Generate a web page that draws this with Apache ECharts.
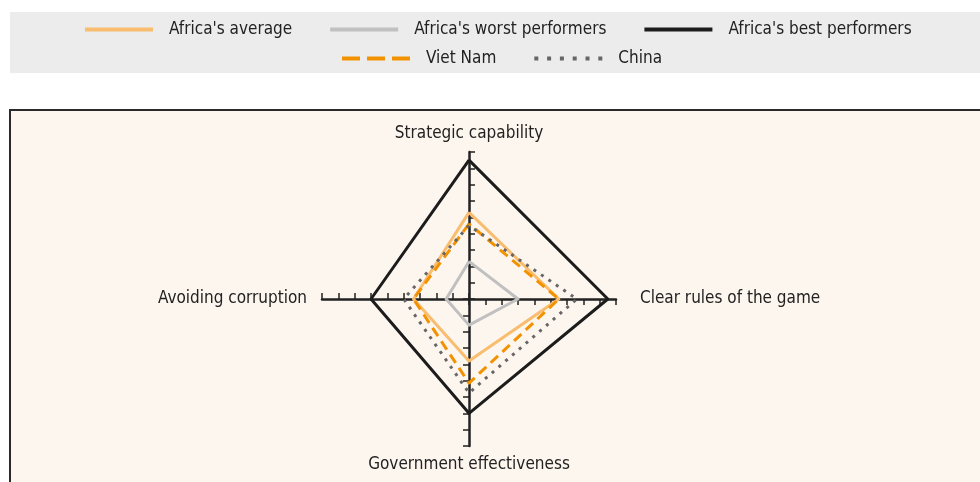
<!DOCTYPE html>
<html>
<head>
<meta charset="utf-8">
<script src="https://cdn.jsdelivr.net/npm/echarts@6/dist/echarts.min.js"></script>
<style>
  html, body { margin: 0; padding: 0; background: #ffffff; }
  #radar { width: 980px; height: 482px; }
</style>
</head>
<body>
<div id="radar"></div>
<script>
// indicator order: top, left, bottom, right (radar goes counter-clockwise)
const indicators = ['Strategic capability', 'Avoiding corruption', 'Government effectiveness', 'Clear rules of the game'];
const axisMax = 9;

const africaAverage = [5.3, 3.4, 3.8, 5.5];
const africaWorst = [2.3, 1.4, 1.6, 3.0];
const africaBest = [8.5, 6.0, 7.0, 8.5];
const vietNam = [4.6, 3.4, 5.15, 5.5];
const china = [4.5, 4.0, 5.75, 6.6];

const font = '"Liberation Sans Narrow", "DejaVu Sans Condensed", "Roboto", sans-serif';

// legend icons drawn as paths so the dashes show
const solidIcon = 'path://M0,0h68v4h-68z';
const dashIcon = 'path://M0,0h18v4h-18z M25,0h18v4h-18z M50,0h18v4h-18z';
const dotIcon = 'path://M0,0h4v4h-4z M12.8,0h4v4h-4z M25.6,0h4v4h-4z M38.4,0h4v4h-4z M51.2,0h4v4h-4z M64,0h4v4h-4z';

let chartDom = document.getElementById('radar');
let myChart = echarts.init(chartDom);
let option;

function item(name, values, color, type) {
  return {
    name: name,
    value: values,
    itemStyle: { color: color },
    lineStyle: { color: color, width: 3, type: type }
  };
}

option = {
  animation: false,
  textStyle: { fontFamily: font },
  graphic: [
    {
      type: 'rect', z: -10, silent: true,
      shape: { x: 10, y: 12, width: 975, height: 61 },
      style: { fill: '#ececec' }
    },
    {
      type: 'rect', z: -10, silent: true,
      shape: { x: 10, y: 110, width: 990, height: 400 },
      style: { fill: '#fdf6ef', stroke: '#2a2a2a', lineWidth: 2 }
    }
  ],
  legend: [
    {
      left: 80, top: 16,
      itemWidth: 68, itemHeight: 4, itemGap: 38,
      itemStyle: { borderWidth: 0 },
      textStyle: { fontFamily: font, fontSize: 17, color: '#222', padding: [0, 0, 0, 11] },
      data: [
        { name: "Africa's average", icon: solidIcon },
        { name: "Africa's worst performers", icon: solidIcon },
        { name: "Africa's best performers", icon: solidIcon }
      ]
    },
    {
      left: 337, top: 45,
      itemWidth: 68, itemHeight: 4, itemGap: 38,
      itemStyle: { borderWidth: 0 },
      textStyle: { fontFamily: font, fontSize: 17, color: '#222', padding: [0, 0, 0, 11] },
      data: [
        { name: 'Viet Nam', icon: dashIcon },
        { name: 'China', icon: dotIcon }
      ]
    }
  ],
  radar: {
    center: [469, 299],
    radius: 147,
    startAngle: 90,
    splitNumber: axisMax,
    shape: 'polygon',
    indicator: indicators.map(function (n) { return { name: n, min: 0, max: axisMax }; }),
    axisName: {
      color: '#222', fontSize: 17, fontFamily: font,
      // side labels sit a little further from the axis ends
      formatter: function (name) {
        if (name === indicators[3]) return '{r|' + name + '}';
        if (name === indicators[1]) return '{l|' + name + '}';
        return name;
      },
      rich: {
        r: { fontSize: 17, fontFamily: font, color: '#222', padding: [0, 0, 0, 14] },
        l: { fontSize: 17, fontFamily: font, color: '#222', padding: [0, 5, 0, 0] }
      }
    },
    nameGap: 10,
    axisLine: { lineStyle: { color: '#222', width: 2.5 } },
    // negative length puts the ticks on the clockwise side, as in the original
    axisTick: { show: true, length: -6, lineStyle: { color: '#222', width: 1.5 } },
    splitLine: { show: false },
    splitArea: { show: false }
  },
  series: [
    {
      type: 'radar',
      symbol: 'none',
      data: [
        item("Africa's average", africaAverage, '#f9bd6f', 'solid'),
        item("Africa's worst performers", africaWorst, '#c0c0c0', 'solid'),
        item("Africa's best performers", africaBest, '#1c1c1c', 'solid'),
        item('Viet Nam', vietNam, '#f39200', [10, 6]),
        item('China', china, '#666666', [3, 6])
      ]
    }
  ]
};

option && myChart.setOption(option);
</script>
</body>
</html>
